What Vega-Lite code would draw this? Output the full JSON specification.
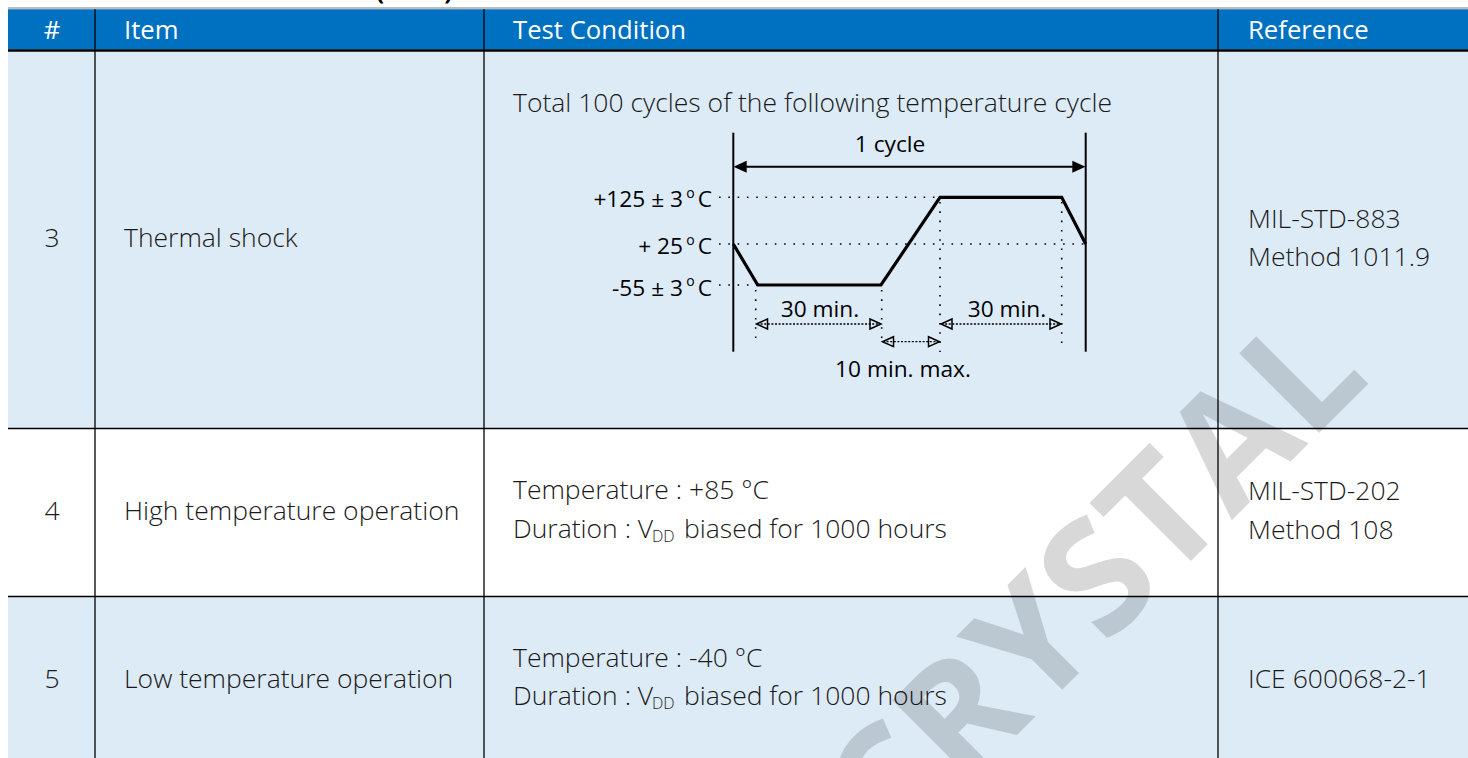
{
  "$schema": "https://vega.github.io/schema/vega-lite/v6.json",
  "width": 1468,
  "height": 758,
  "autosize": {"type": "none"},
  "padding": 0,
  "background": "white",
  "config": {"view": {"stroke": null}},
  "encoding": {
    "x": {"field": "x", "type": "quantitative", "scale": {"domain": [0, 1468], "nice": false, "zero": false}, "axis": null},
    "y": {"field": "y", "type": "quantitative", "scale": {"domain": [0, 758], "nice": false, "zero": false, "reverse": true}, "axis": null}
  },
  "layer": [
    {
      "data": {"values": [
        {"x": 8, "x2": 1468, "y": 9.3, "y2": 49.5, "kind": "header"},
        {"x": 8, "x2": 1468, "y": 51.5, "y2": 428.5, "kind": "shade"},
        {"x": 8, "x2": 1468, "y": 597, "y2": 758, "kind": "shade"}
      ]},
      "mark": {"type": "rect"},
      "encoding": {
        "x2": {"field": "x2"}, "y2": {"field": "y2"},
        "color": {"field": "kind", "type": "nominal", "scale": {"domain": ["header", "shade"], "range": ["#0070C0", "#DDEBF7"]}, "legend": null}
      }
    },
    {
      "data": {"values": [{"x": 8, "x2": 1468, "y": 8}]},
      "mark": {"type": "rule", "color": "#A6A6A6", "strokeWidth": 1.5},
      "encoding": {"x2": {"field": "x2"}}
    },
    {
      "data": {"values": [{"x": 8, "x2": 1468, "y": 50.5}]},
      "mark": {"type": "rule", "color": "#000000", "strokeWidth": 2.5},
      "encoding": {"x2": {"field": "x2"}}
    },
    {
      "data": {"values": [
        {"x": 8, "x2": 1468, "y": 428.5, "y2": 428.5},
        {"x": 8, "x2": 1468, "y": 596.5, "y2": 596.5},
        {"x": 95, "x2": 95, "y": 9.3, "y2": 758},
        {"x": 484, "x2": 484, "y": 9.3, "y2": 758},
        {"x": 1218, "x2": 1218, "y": 9.3, "y2": 758}
      ]},
      "mark": {"type": "rule", "color": "#000000", "strokeWidth": 1.3},
      "encoding": {"x2": {"field": "x2"}, "y2": {"field": "y2"}}
    },
    {
      "data": {"values": [
        {"x": 733.3, "x2": 733.3, "y": 132.7, "y2": 351.7},
        {"x": 1085.7, "x2": 1085.7, "y": 132.7, "y2": 351.7},
        {"x": 742, "x2": 1077, "y": 166.7, "y2": 166.7}
      ]},
      "mark": {"type": "rule", "color": "#000000", "strokeWidth": 2},
      "encoding": {"x2": {"field": "x2"}, "y2": {"field": "y2"}}
    },
    {
      "data": {"values": [
        {"x": 733.3, "y": 244, "o": 1},
        {"x": 757.7, "y": 285, "o": 2},
        {"x": 881, "y": 285, "o": 3},
        {"x": 940, "y": 197.3, "o": 4},
        {"x": 1061.7, "y": 197.3, "o": 5},
        {"x": 1085.7, "y": 244, "o": 6}
      ]},
      "mark": {"type": "line", "color": "#000000", "strokeWidth": 3.2, "strokeJoin": "miter"},
      "encoding": {"order": {"field": "o", "type": "quantitative"}}
    },
    {
      "data": {"values": [
        {"x": 719, "x2": 940, "y": 197.3, "y2": 197.3},
        {"x": 719, "x2": 1085, "y": 244, "y2": 244},
        {"x": 719, "x2": 757, "y": 285, "y2": 285},
        {"x": 755.7, "x2": 755.7, "y": 290, "y2": 345},
        {"x": 881.7, "x2": 881.7, "y": 290, "y2": 340},
        {"x": 940, "x2": 940, "y": 202, "y2": 352},
        {"x": 1061.7, "x2": 1061.7, "y": 202, "y2": 345}
      ]},
      "mark": {"type": "rule", "color": "#000000", "strokeWidth": 1.6, "strokeDash": [1.6, 7.7], "strokeCap": "butt"},
      "encoding": {"x2": {"field": "x2"}, "y2": {"field": "y2"}}
    },
    {
      "data": {"values": [
        {"x": 757, "x2": 880.5, "y": 324, "y2": 324},
        {"x": 941.5, "x2": 1060.5, "y": 324, "y2": 324},
        {"x": 883, "x2": 939, "y": 341.7, "y2": 341.7}
      ]},
      "mark": {"type": "rule", "color": "#000000", "strokeWidth": 1.3, "strokeDash": [2, 1.6]},
      "encoding": {"x2": {"field": "x2"}, "y2": {"field": "y2"}}
    },
    {
      "data": {"values": [
        {"x": 733.5, "y": 166.7, "dir": "left"},
        {"x": 1085.5, "y": 166.7, "dir": "right"}
      ]},
      "mark": {"type": "point", "filled": true, "color": "#000000", "opacity": 1, "size": 144},
      "encoding": {
        "shape": {"field": "dir", "type": "nominal", "scale": {"domain": ["left", "right"], "range": ["M0,0L2.2,-1L2.2,1Z", "M0,0L-2.2,-1L-2.2,1Z"]}, "legend": null}
      }
    },
    {
      "data": {"values": [
        {"x": 756.5, "y": 324, "dir": "left"},
        {"x": 881, "y": 324, "dir": "right"},
        {"x": 941, "y": 324, "dir": "left"},
        {"x": 1061, "y": 324, "dir": "right"},
        {"x": 882.5, "y": 341.7, "dir": "left"},
        {"x": 939.5, "y": 341.7, "dir": "right"}
      ]},
      "mark": {"type": "point", "filled": false, "color": "#000000", "opacity": 1, "strokeWidth": 1.5, "size": 100},
      "encoding": {
        "shape": {"field": "dir", "type": "nominal", "scale": {"domain": ["left", "right"], "range": ["M0.7,-1L0,0L0.7,1", "M-0.7,-1L0,0L-0.7,1"]}, "legend": null}
      }
    },
    {
      "data": {"values": [{"x": 52, "y": 31, "t": "#"}]},
      "mark": {"type": "text", "align": "center", "baseline": "middle", "font": "Open Sans", "fontSize": 25.7, "color": "#FFFFFF"},
      "encoding": {"text": {"field": "t"}}
    },
    {
      "data": {"values": [
        {"x": 124, "y": 31, "t": "Item"},
        {"x": 513, "y": 31, "t": "Test Condition"},
        {"x": 1248, "y": 31, "t": "Reference"}
      ]},
      "mark": {"type": "text", "align": "left", "baseline": "middle", "font": "Open Sans", "fontSize": 25.7, "color": "#FFFFFF"},
      "encoding": {"text": {"field": "t"}}
    },
    {
      "data": {"values": [
        {"x": 52, "y": 239, "t": "3"},
        {"x": 52, "y": 512, "t": "4"},
        {"x": 52, "y": 680, "t": "5"}
      ]},
      "mark": {"type": "text", "align": "center", "baseline": "middle", "font": "Open Sans", "fontWeight": 300, "fontSize": 26.5, "color": "#1A1A1A"},
      "encoding": {"text": {"field": "t"}}
    },
    {
      "data": {"values": [
        {"x": 124, "y": 239, "t": "Thermal shock"},
        {"x": 124, "y": 512, "t": "High temperature operation"},
        {"x": 124, "y": 680, "t": "Low temperature operation"},
        {"x": 513, "y": 104, "t": "Total 100 cycles of the following temperature cycle"},
        {"x": 513, "y": 491, "t": "Temperature : +85 °C"},
        {"x": 513, "y": 530, "t": "Duration : V"},
        {"x": 684, "y": 530, "t": "biased for 1000 hours"},
        {"x": 513, "y": 659, "t": "Temperature : -40 °C"},
        {"x": 513, "y": 697, "t": "Duration : V"},
        {"x": 684, "y": 697, "t": "biased for 1000 hours"},
        {"x": 1248, "y": 220, "t": "MIL-STD-883"},
        {"x": 1248, "y": 258, "t": "Method 1011.9"},
        {"x": 1248, "y": 492, "t": "MIL-STD-202"},
        {"x": 1248, "y": 531, "t": "Method 108"},
        {"x": 1248, "y": 680, "t": "ICE 600068-2-1"}
      ]},
      "mark": {"type": "text", "align": "left", "baseline": "middle", "font": "Open Sans", "fontWeight": 300, "fontSize": 26.5, "color": "#1A1A1A"},
      "encoding": {"text": {"field": "t"}}
    },
    {
      "data": {"values": [
        {"x": 652, "y": 537, "t": "DD"},
        {"x": 652, "y": 704, "t": "DD"}
      ]},
      "mark": {"type": "text", "align": "left", "baseline": "middle", "font": "Open Sans", "fontWeight": 300, "fontSize": 16, "color": "#1A1A1A"},
      "encoding": {"text": {"field": "t"}}
    },
    {
      "data": {"values": [
        {"x": 890, "y": 145, "t": "1  cycle"},
        {"x": 820, "y": 310, "t": "30 min."},
        {"x": 1007, "y": 310, "t": "30 min."},
        {"x": 903, "y": 370, "t": "10 min. max."}
      ]},
      "mark": {"type": "text", "align": "center", "baseline": "middle", "font": "Open Sans", "fontSize": 22.7, "color": "#000000"},
      "encoding": {"text": {"field": "t"}}
    },
    {
      "data": {"values": [
        {"x": 683, "y": 199.5, "t": "+125 ± 3"},
        {"x": 683, "y": 246.5, "t": "+ 25"},
        {"x": 683, "y": 289, "t": "-55 ± 3"},
        {"x": 712, "y": 199.5, "t": "C"},
        {"x": 712, "y": 246.5, "t": "C"},
        {"x": 712, "y": 289, "t": "C"}
      ]},
      "mark": {"type": "text", "align": "right", "baseline": "middle", "font": "Open Sans", "fontSize": 22.7, "color": "#000000"},
      "encoding": {"text": {"field": "t"}}
    },
    {
      "data": {"values": [
        {"x": 690.5, "y": 193.5, "t": "o"},
        {"x": 690.5, "y": 240.5, "t": "o"},
        {"x": 690.5, "y": 282, "t": "o"}
      ]},
      "mark": {"type": "text", "align": "center", "baseline": "middle", "font": "Open Sans", "fontSize": 14, "color": "#000000"},
      "encoding": {"text": {"field": "t"}}
    },
    {
      "data": {"values": [{"x": 376, "y": 0, "t": "(cont.)"}]},
      "mark": {"type": "text", "align": "left", "baseline": "alphabetic", "font": "Open Sans", "fontWeight": "bold", "fontSize": 24, "color": "#000000"},
      "encoding": {"text": {"field": "t"}}
    },
    {
      "data": {"values": [{"x": 1372, "y": 380, "t": "TXC CRYSTAL"}]},
      "mark": {"type": "text", "align": "right", "baseline": "alphabetic", "angle": -45, "font": "Open Sans", "fontWeight": "bold", "fontSize": 158, "color": "#000000", "opacity": 0.15},
      "encoding": {"text": {"field": "t"}}
    }
  ]
}
